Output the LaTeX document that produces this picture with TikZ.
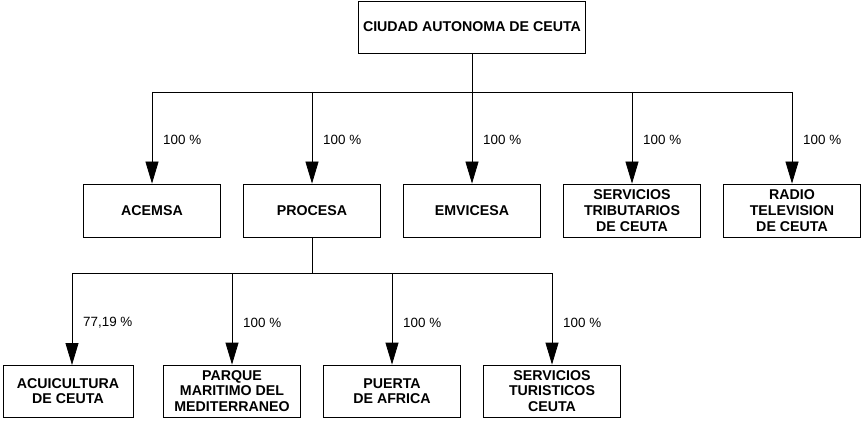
\documentclass[tikz,border=0pt]{standalone}
\usepackage{fontspec}
\setmainfont{Liberation Sans}
\usetikzlibrary{arrows.meta}
\begin{document}
\begin{tikzpicture}[x=1pt,y=-1pt,
  box/.style={draw, line width=0.8pt, minimum width=137pt, minimum height=53pt, inner sep=0pt, align=center, font=\fontsize{14.2}{16.3}\selectfont\bfseries},
  boxb/.style={box, minimum height=52pt, font=\fontsize{14.2}{15.5}\selectfont\bfseries},
  pct/.style={anchor=west, inner sep=0pt, font=\fontsize{13.4}{15}\selectfont},
  link/.style={line width=0.8pt},
  arr/.style={link, -{Triangle[length=22pt,width=13pt]}}]
\useasboundingbox (0,0) rectangle (861,422);

% top
\node[box, minimum width=227pt, minimum height=52pt] (top) at (472,27) {CIUDAD AUTONOMA DE CEUTA};

% level 1
\node[box] (acemsa) at (152,210.5) {ACEMSA};
\node[box] (procesa) at (312,210.5) {PROCESA};
\node[box] (emvicesa) at (472,210.5) {EMVICESA};
\node[box] (strib) at (632,210.5) {SERVICIOS\\TRIBUTARIOS\\DE CEUTA};
\node[box] (radio) at (792,210.5) {RADIO\\TELEVISION\\DE CEUTA};

% level 2
\node[boxb, minimum width=130pt] (acui) at (68,391) {ACUICULTURA\\DE CEUTA};
\node[boxb] (parque) at (232,391) {PARQUE\\MARITIMO DEL\\MEDITERRANEO};
\node[boxb] (puerta) at (392,391) {PUERTA\\DE AFRICA};
\node[boxb] (stur) at (552,391) {SERVICIOS\\TURISTICOS\\CEUTA};

% bus level 1
\coordinate (b1) at (472,92);
\coordinate (b1l) at (152,92);
\coordinate (b1r) at (792,92);
\draw[link] (top.south) -- (b1);
\draw[link] (b1l) -- (b1r);
\draw[arr] (b1l) -- (acemsa.north);
\draw[arr] (procesa.north |- b1) -- (procesa.north);
\draw[arr] (b1) -- (emvicesa.north);
\draw[arr] (strib.north |- b1) -- (strib.north);
\draw[arr] (b1r) -- (radio.north);

% bus level 2
\coordinate (b2) at (312,273);
\coordinate (b2l) at (72,273);
\coordinate (b2r) at (552,273);
\coordinate (acuitop) at (72,365);
\draw[link] (procesa.south) -- (b2);
\draw[link] (b2l) -- (b2r);
\draw[arr] (b2l) -- (acuitop);
\draw[arr] (parque.north |- b2) -- (parque.north);
\draw[arr] (puerta.north |- b2) -- (puerta.north);
\draw[arr] (b2r) -- (stur.north);

% labels
\node[pct] (l1) at (163,140) {100 \%};
\node[pct] (l2) at (323,140) {100 \%};
\node[pct] (l3) at (483,140) {100 \%};
\node[pct] (l4) at (643,140) {100 \%};
\node[pct] (l5) at (803,140) {100 \%};
\node[pct] (m1) at (83,323) {77,19 \%};
\node[pct] (m2) at (243,323) {100 \%};
\node[pct] (m3) at (403,323) {100 \%};
\node[pct] (m4) at (563,323) {100 \%};
\end{tikzpicture}
\end{document}
